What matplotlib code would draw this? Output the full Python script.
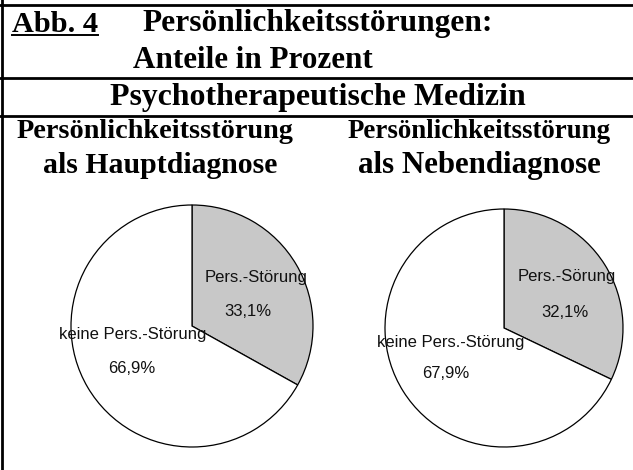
import matplotlib
matplotlib.use("Agg")
import matplotlib.pyplot as plt
from matplotlib.lines import Line2D

# ---------------- data ----------------
title_fig = "Abb. 4"
title_main = ["Persönlichkeitsstörungen:", "Anteile in Prozent"]
section = "Psychotherapeutische Medizin"
pie_titles = [["Persönlichkeitsstörung", "als Hauptdiagnose"],
              ["Persönlichkeitsstörung", "als Nebendiagnose"]]
slice_labels = [["Pers.-Störung", "keine Pers.-Störung"],
                ["Pers.-Sörung", "keine Pers.-Störung"]]
values_haupt = [33.1, 66.9]
values_neben = [32.1, 67.9]
pct_labels = [["33,1%", "66,9%"], ["32,1%", "67,9%"]]

# ---------------- layout ----------------
W, H = 633, 470
fig = plt.figure(figsize=(W / 100, H / 100), dpi=100)
fig.patch.set_facecolor("white")
renderer = fig.canvas.get_renderer()

SERIF = ["Liberation Serif", "DejaVu Serif"]
SANS = ["Liberation Sans", "DejaVu Sans"]


def px(x, y):
    return x / W, (H - y) / H


def fit_text(x, y, s, width, **kw):
    t = fig.text(*px(x, y), s, fontsize=20, family=SERIF, fontweight="bold",
                 va="baseline", ha="left", **kw)
    w = t.get_window_extent(renderer).width
    t.set_fontsize(20 * width / w)
    return t


# frame lines
for yy in [5, 78, 116]:
    fig.add_artist(Line2D([0, 1], [px(0, yy)[1]] * 2, color="black", lw=2.0,
                          transform=fig.transFigure))
fig.add_artist(Line2D([px(2, 0)[0]] * 2, [0, 1], color="black", lw=2.0,
                      transform=fig.transFigure))

# header texts
fit_text(12, 31.5, title_fig, 86)
fig.add_artist(Line2D([px(12, 0)[0], px(98, 0)[0]], [px(0, 34.5)[1]] * 2,
                      color="black", lw=1.4, transform=fig.transFigure))
fit_text(142, 31.5, title_main[0], 348)
fit_text(133, 67.5, title_main[1], 240)
fit_text(110, 105, section, 416)
fit_text(17, 138, pie_titles[0][0], 276)
fit_text(43, 173, pie_titles[0][1], 234)
fit_text(348, 138, pie_titles[1][0], 263)
fit_text(358, 173, pie_titles[1][1], 243)

# pies: (center x, center y, radius) in pixels
pie_geom = [(192, 326, 121), (504, 328, 119)]
# label positions in pie units: [slice label, pct] per slice
label_pos = [
    [[(0.53, 0.40), (0.46, 0.12)], [(-0.49, -0.07), (-0.50, -0.35)]],
    [[(0.53, 0.43), (0.51, 0.13)], [(-0.45, -0.12), (-0.49, -0.38)]],
]
colors = ["#c8c8c8", "white"]

for i, vals in enumerate([values_haupt, values_neben]):
    cx, cy, r = pie_geom[i]
    lim = 1.05
    size = 2 * lim * r
    left = (cx - size / 2) / W
    bottom = (H - cy - size / 2) / H
    ax = fig.add_axes([left, bottom, size / W, size / H])
    ax.pie(vals, startangle=90, counterclock=False, colors=colors,
           wedgeprops=dict(edgecolor="black", linewidth=0.9))
    ax.set_xlim(-lim, lim)
    ax.set_ylim(-lim, lim)
    ax.axis("off")
    for j in range(2):
        (lx, ly), (qx, qy) = label_pos[i][j]
        ax.text(lx, ly, slice_labels[i][j], ha="center", va="center",
                fontsize=12, family=SANS, color="#111111")
        ax.text(qx, qy, pct_labels[i][j], ha="center", va="center",
                fontsize=12, family=SANS, color="#111111")

fig.savefig("out.png", dpi=100, facecolor="white")
